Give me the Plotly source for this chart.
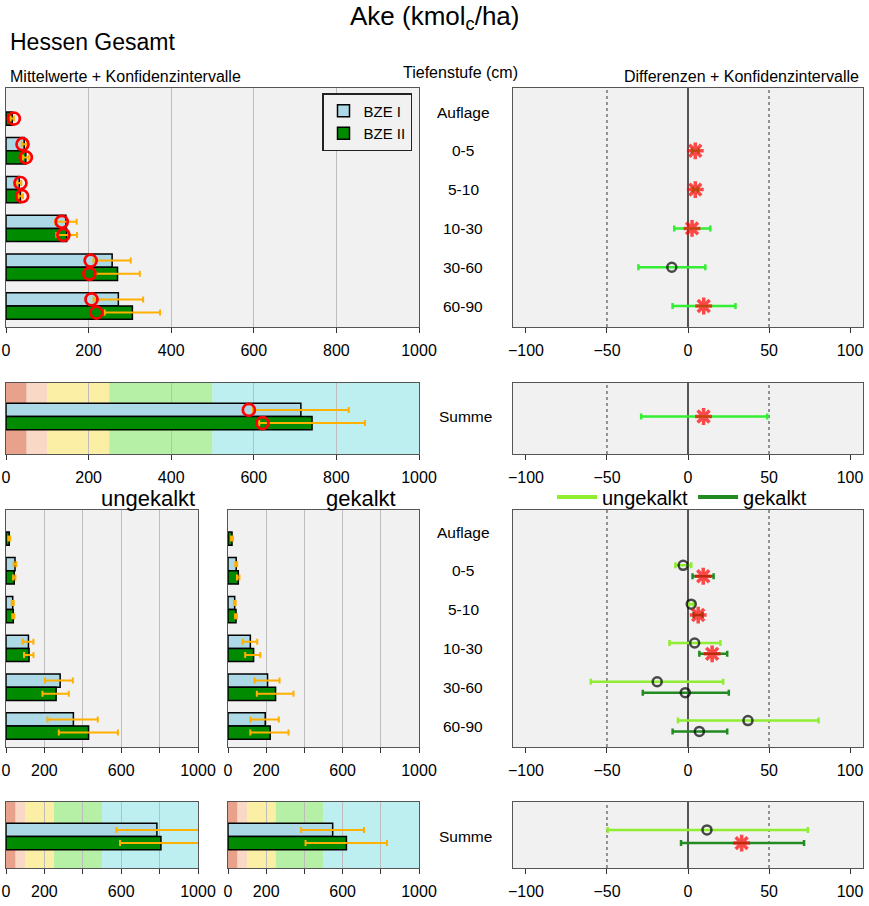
import plotly.graph_objects as go

# ---------------- data ----------------
depths = ["Auflage", "0-5", "5-10", "10-30", "30-60", "60-90"]

# Hessen gesamt: means, confidence limits, medians
g_bze1_mean = [None, 44, 32, 145, 257, 272]
g_bze1_lo = [None, 38, 27, 119, 212, 212]
g_bze1_hi = [None, 50, 37, 171, 302, 332]
g_bze1_med = [None, 40, 35, 135, 205, 207]
g_bze2_mean = [15, 48, 35, 147, 270, 306]
g_bze2_lo = [11, 41, 30, 122, 216, 239]
g_bze2_hi = [19, 55, 41, 172, 324, 373]
g_bze2_med = [19, 48, 39, 139, 202, 219]

g_sum_mean = [714, 741]
g_sum_lo = [598, 613]
g_sum_hi = [830, 869]
g_sum_med = [588, 621]

# Hessen gesamt: differences BZE II - BZE I
g_diff = [None, 4.5, 4.5, 2.5, -10, 9.7]
g_diff_lo = [None, 2.5, 3.0, -8.5, -30.6, -9.5]
g_diff_hi = [None, 6.5, 6.0, 13.8, 10.7, 29.3]
g_diff_sig = [False, True, True, True, False, True]
g_sum_diff = [9.6]
g_sum_diff_lo = [-28.9]
g_sum_diff_hi = [48.9]
g_sum_diff_sig = [True]

# ungekalkt
u_bze1_mean = [None, 47, 35, 117, 282, 351]
u_bze1_lo = [None, 40, 30, 87, 203, 216]
u_bze1_hi = [None, 54, 40, 143, 348, 478]
u_bze2_mean = [17, 43, 38, 120, 261, 430]
u_bze2_lo = [12, 37, 33, 94, 190, 275]
u_bze2_hi = [22, 49, 43, 143, 327, 583]
u_sum_mean = [786, 807]
u_sum_lo = [575, 594]
u_sum_hi = [1005, 1025]

# gekalkt
k_bze1_mean = [None, 43, 35, 117, 207, 195]
k_bze1_lo = [None, 38, 31, 77, 139, 117]
k_bze1_hi = [None, 48, 40, 153, 270, 266]
k_bze2_mean = [21, 54, 42, 134, 249, 221]
k_bze2_lo = [16, 47, 37, 90, 151, 117]
k_bze2_hi = [26, 60, 47, 169, 343, 317]
k_sum_mean = [548, 620]
k_sum_lo = [383, 406]
k_sum_hi = [712, 832]

# differences ungekalkt / gekalkt
u_diff = [None, -3.0, 2.0, 4.1, -19, 37]
u_diff_lo = [None, -7.8, 0.5, -11.4, -60, -6.2]
u_diff_hi = [None, 2.0, 3.5, 20, 21.7, 80.6]
u_diff_sig = [False, False, False, False, False, False]
k_diff = [None, 9.4, 6.3, 14.9, -1.7, 7]
k_diff_lo = [None, 2.8, 3.5, 7, -27.9, -9.5]
k_diff_hi = [None, 15.8, 9.0, 24.2, 25.2, 24.2]
k_diff_sig = [False, True, True, True, False, False]
u_sum_diff = [11.7]
u_sum_diff_lo = [-49.6]
u_sum_diff_hi = [74]
u_sum_diff_sig = [False]
k_sum_diff = [33.1]
k_sum_diff_lo = [-4.3]
k_sum_diff_hi = [71.6]
k_sum_diff_sig = [True]

band_edges = [0, 50, 100, 250, 500, 1000]
band_colors = ["#E8A28C", "#F9D8C6", "#FBEFA6", "#B6EFA6", "#BDEEF0"]

bar_ticks = [0, 200, 400, 600, 800, 1000]
bar_ticks_small = ["0", "200", " ", "600", " ", "1000"]
diff_ticks = [-100, -50, 0, 50, 100]

# ---------------- styles ----------------
W, H = 869, 906
FONT = "Liberation Sans"
C_BZE1 = "#ADD8E6"
C_BZE2 = "#008B00"
C_ORANGE = "#FFB000"
C_GREEN = "#33EE33"
C_UNG = "#90EE30"
C_GEK = "#228B22"
BW = 0.34
OFF = 0.17
DOFF = 0.14


def px(x):
    return x / W


def py(y):
    return 1 - y / H


def ax(n):
    return "" if n == 1 else str(n)


fig = go.Figure()


def errs(mean, lo, hi):
    plus, minus = [], []
    for m, l, h in zip(mean, lo, hi):
        if m is None:
            plus.append(0)
            minus.append(0)
        else:
            plus.append(h - m)
            minus.append(m - l)
    return plus, minus


def add_bars(n, mean, lo, hi, color, offset, name, legend=False, base_idx=None):
    idx = base_idx if base_idx is not None else list(range(len(mean)))
    plus, minus = errs(mean, lo, hi)
    fig.add_trace(go.Bar(
        x=mean, y=[i + offset for i in idx], orientation="h", width=BW,
        marker=dict(color=color, line=dict(color="black", width=1.5)),
        error_x=dict(type="data", symmetric=False, array=plus, arrayminus=minus,
                     color=C_ORANGE, thickness=2, width=3),
        name=name, showlegend=legend, legend="legend",
        xaxis="x" + ax(n), yaxis="y" + ax(n), hoverinfo="x"))


def add_medians(n, med, offset, base_idx=None):
    idx = base_idx if base_idx is not None else list(range(len(med)))
    fig.add_trace(go.Scatter(
        x=med, y=[i + offset for i in idx], mode="markers",
        marker=dict(symbol="circle-open", size=12, color="#FF0000", line=dict(width=2.7)),
        showlegend=False, xaxis="x" + ax(n), yaxis="y" + ax(n)))


def add_diff(n, d, lo, hi, sig, offset, color):
    plus, minus = errs(d, lo, hi)
    fig.add_trace(go.Scatter(
        x=d, y=[i + offset for i in range(len(d))], mode="markers",
        marker=dict(symbol=["asterisk-open" if s else "circle-open" for s in sig],
                    size=[14 if s else 9 for s in sig],
                    color=["#FF0000" if s else "black" for s in sig],
                    line=dict(width=[3.5 if s else 2.5 for s in sig])),
        error_x=dict(type="data", symmetric=False, array=plus, arrayminus=minus,
                     color=color, thickness=2.5, width=3),
        showlegend=False, xaxis="x" + ax(n), yaxis="y" + ax(n)))


# ---- panel 1: means Hessen gesamt ----
add_bars(1, g_bze1_mean, g_bze1_lo, g_bze1_hi, C_BZE1, -OFF, "BZE I", True)
add_bars(1, g_bze2_mean, g_bze2_lo, g_bze2_hi, C_BZE2, OFF, "BZE II", True)
add_medians(1, g_bze1_med, -OFF)
add_medians(1, g_bze2_med, OFF)

# ---- panel 2: differences ----
add_diff(2, g_diff, g_diff_lo, g_diff_hi, g_diff_sig, 0, C_GREEN)

# ---- panel 3: Summe ----
add_bars(3, [g_sum_mean[0]], [g_sum_lo[0]], [g_sum_hi[0]], C_BZE1, -OFF, "BZE I", base_idx=[0])
add_bars(3, [g_sum_mean[1]], [g_sum_lo[1]], [g_sum_hi[1]], C_BZE2, OFF, "BZE II", base_idx=[0])
add_medians(3, [g_sum_med[0]], -OFF, base_idx=[0])
add_medians(3, [g_sum_med[1]], OFF, base_idx=[0])

# ---- panel 4: Summe differences ----
add_diff(4, g_sum_diff, g_sum_diff_lo, g_sum_diff_hi, g_sum_diff_sig, 0, C_GREEN)

# ---- panel 5/6: ungekalkt / gekalkt ----
add_bars(5, u_bze1_mean, u_bze1_lo, u_bze1_hi, C_BZE1, -OFF, "BZE I")
add_bars(5, u_bze2_mean, u_bze2_lo, u_bze2_hi, C_BZE2, OFF, "BZE II")
add_bars(6, k_bze1_mean, k_bze1_lo, k_bze1_hi, C_BZE1, -OFF, "BZE I")
add_bars(6, k_bze2_mean, k_bze2_lo, k_bze2_hi, C_BZE2, OFF, "BZE II")

# ---- panel 7: differences ungekalkt / gekalkt ----
add_diff(7, u_diff, u_diff_lo, u_diff_hi, u_diff_sig, -DOFF, C_UNG)
add_diff(7, k_diff, k_diff_lo, k_diff_hi, k_diff_sig, DOFF, C_GEK)
for nm, col in [("ungekalkt", C_UNG), ("gekalkt", C_GEK)]:
    fig.add_trace(go.Scatter(x=[-1000], y=[-1000], mode="lines", line=dict(color=col, width=4),
                             name=nm, legend="legend2", showlegend=True,
                             xaxis="x7", yaxis="y7"))

# ---- panel 8/9: Summe ungekalkt / gekalkt ----
add_bars(8, [u_sum_mean[0]], [u_sum_lo[0]], [u_sum_hi[0]], C_BZE1, -OFF, "BZE I", base_idx=[0])
add_bars(8, [u_sum_mean[1]], [u_sum_lo[1]], [u_sum_hi[1]], C_BZE2, OFF, "BZE II", base_idx=[0])
add_bars(9, [k_sum_mean[0]], [k_sum_lo[0]], [k_sum_hi[0]], C_BZE1, -OFF, "BZE I", base_idx=[0])
add_bars(9, [k_sum_mean[1]], [k_sum_lo[1]], [k_sum_hi[1]], C_BZE2, OFF, "BZE II", base_idx=[0])

# ---- panel 10: Summe differences ----
add_diff(10, u_sum_diff, u_sum_diff_lo, u_sum_diff_hi, u_sum_diff_sig, -OFF, C_UNG)
add_diff(10, k_sum_diff, k_sum_diff_lo, k_sum_diff_hi, k_sum_diff_sig, OFF, C_GEK)

# ---------------- axes ----------------
XL = [px(6), px(419)]
XR = [px(513), px(863)]
XU = [px(6), px(198)]
XK = [px(228), px(419)]
Y1 = [py(327), py(88)]
Y3 = [py(454), py(383)]
Y5 = [py(747), py(510)]
Y8 = [py(868), py(802)]

R_TOP = [(327 - 112) / 38.8, (88 - 112) / 38.8]
R_SUM1 = [(454 - 416.5) / 38.8, (383 - 416.5) / 38.8]
R_LOW = [(747 - 532) / 38.8, (510 - 532) / 38.8]
R_SUM2 = [(868 - 836.5) / 38.8, (802 - 836.5) / 38.8]

common_x = dict(ticks="outside", ticklen=5, tickcolor="#333", tickwidth=1,
                showline=True, mirror=True, linecolor="#555", linewidth=1.3,
                zeroline=False, tickfont=dict(size=16, color="black", family=FONT),
                ticklabelstandoff=4, fixedrange=True, automargin=False)
common_y = dict(showticklabels=False, ticks="", showgrid=False, zeroline=False,
                showline=True, mirror=True, linecolor="#555", linewidth=1.3,
                fixedrange=True, automargin=False)


def bar_x(dom, n, small=False):
    d = dict(common_x, domain=dom, range=[0, 1000], tickvals=bar_ticks,
             showgrid=True, gridcolor="#BDBDBD", gridwidth=1, anchor="y" + ax(n))
    if small:
        d["ticktext"] = bar_ticks_small
    return d


def diff_x(n):
    return dict(common_x, domain=XR, range=[-108, 108], tickvals=diff_ticks,
                showgrid=False, anchor="y" + ax(n))


layout_axes = {
    "xaxis": bar_x(XL, 1), "yaxis": dict(common_y, domain=Y1, range=R_TOP, anchor="x"),
    "xaxis2": diff_x(2), "yaxis2": dict(common_y, domain=Y1, range=R_TOP, anchor="x2"),
    "xaxis3": bar_x(XL, 3), "yaxis3": dict(common_y, domain=Y3, range=R_SUM1, anchor="x3"),
    "xaxis4": diff_x(4), "yaxis4": dict(common_y, domain=Y3, range=R_SUM1, anchor="x4"),
    "xaxis5": bar_x(XU, 5, True), "yaxis5": dict(common_y, domain=Y5, range=R_LOW, anchor="x5"),
    "xaxis6": bar_x(XK, 6, True), "yaxis6": dict(common_y, domain=Y5, range=R_LOW, anchor="x6"),
    "xaxis7": diff_x(7), "yaxis7": dict(common_y, domain=Y5, range=R_LOW, anchor="x7"),
    "xaxis8": bar_x(XU, 8, True), "yaxis8": dict(common_y, domain=Y8, range=R_SUM2, anchor="x8"),
    "xaxis9": bar_x(XK, 9, True), "yaxis9": dict(common_y, domain=Y8, range=R_SUM2, anchor="x9"),
    "xaxis10": diff_x(10), "yaxis10": dict(common_y, domain=Y8, range=R_SUM2, anchor="x10"),
}

# ---------------- shapes ----------------
shapes = []
for n in (3, 8, 9):
    for i, col in enumerate(band_colors):
        shapes.append(dict(type="rect", xref="x" + ax(n), yref="y" + ax(n) + " domain",
                           x0=band_edges[i], x1=band_edges[i + 1], y0=0, y1=1,
                           fillcolor=col, line=dict(width=0), layer="below"))
for n in (2, 4, 7, 10):
    for v in (-50, 50):
        shapes.append(dict(type="line", xref="x" + ax(n), yref="y" + ax(n) + " domain",
                           x0=v, x1=v, y0=0, y1=1, line=dict(color="#333", width=1, dash="dot"),
                           layer="below"))
    shapes.append(dict(type="line", xref="x" + ax(n), yref="y" + ax(n) + " domain",
                       x0=0, x1=0, y0=0, y1=1, line=dict(color="#555", width=2), layer="below"))

# ---------------- annotations ----------------
ann = []


def text(x, y, s, size, xanchor="center", xref="paper", yref="paper"):
    ann.append(dict(x=x, y=y, xref=xref, yref=yref, text=s, showarrow=False,
                    xanchor=xanchor, yanchor="middle",
                    font=dict(size=size, family=FONT, color="black")))


text(px(434), py(18), "Ake (kmol<sub>c</sub>/ha)", 26)
text(px(8), py(42), "Hessen Gesamt", 23, "left")
text(px(8), py(77), "Mittelwerte + Konfidenzintervalle", 16, "left")
text(px(460), py(73), "Tiefenstufe (cm)", 16)
text(px(861), py(77), "Differenzen + Konfidenzintervalle", 16, "right")
text(px(148), py(498), "ungekalkt", 22)
text(px(361), py(498), "gekalkt", 22)
for i, d in enumerate(depths):
    text(px(463), i, d, 15.5, yref="y2")
    text(px(463), i, d, 15.5, yref="y7")
text(px(466), 0, "Summe", 15.5, yref="y4")
text(px(466), 0, "Summe", 15.5, yref="y10")

fig.update_layout(
    width=W, height=H, margin=dict(l=0, r=0, t=0, b=0, pad=0, autoexpand=False),
    paper_bgcolor="white", plot_bgcolor="#F1F1F1",
    barmode="overlay", font=dict(family=FONT, color="black"),
    shapes=shapes, annotations=ann,
    legend=dict(x=px(322), y=py(93), xanchor="left", yanchor="top",
                bordercolor="#222", borderwidth=1.5, bgcolor="#F1F1F1",
                font=dict(size=15, family=FONT), tracegroupgap=0, itemwidth=30),
    legend2=dict(orientation="h", x=px(682), y=py(497), xanchor="center", yanchor="middle",
                 bgcolor="rgba(0,0,0,0)", font=dict(size=20, family=FONT), itemwidth=40),
    **layout_axes,
)

fig.write_html("out.html", config={"displayModeBar": False},
               post_script="document.body.style.margin='0';document.body.style.overflow='hidden';")
